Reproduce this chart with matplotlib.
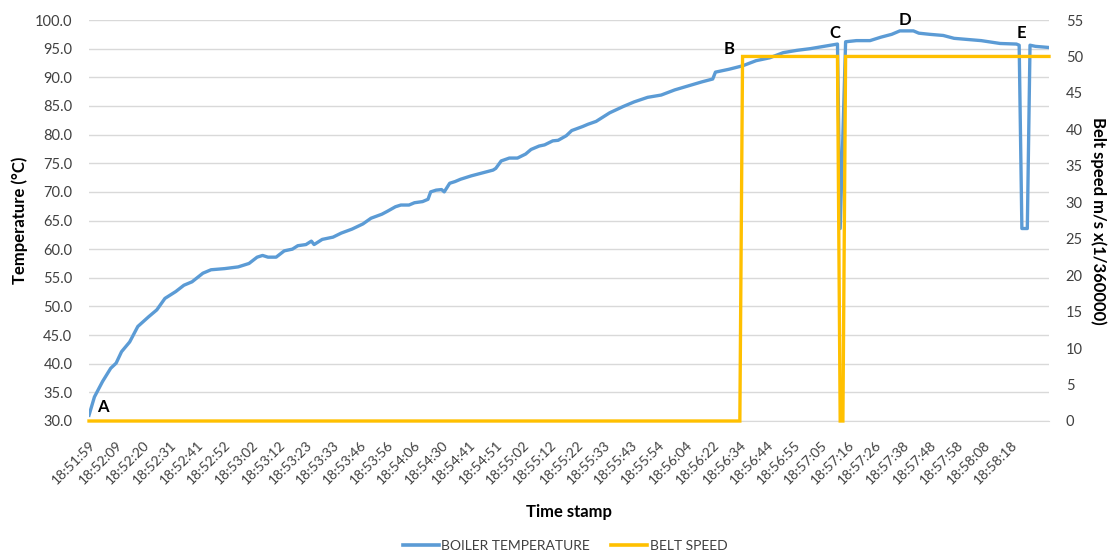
import matplotlib
matplotlib.use("Agg")
import matplotlib.pyplot as plt
from matplotlib.lines import Line2D

plt.rcParams['font.family'] = ['Lato', 'DejaVu Sans']

# tick labels, one every 10 samples
timestamps = [
    '18:51:59', '18:52:09', '18:52:20', '18:52:31', '18:52:41', '18:52:52',
    '18:53:02', '18:53:12', '18:53:23', '18:53:33', '18:53:46', '18:53:56',
    '18:54:06', '18:54:30', '18:54:41', '18:54:51', '18:55:02', '18:55:12',
    '18:55:22', '18:55:33', '18:55:43', '18:55:54', '18:56:04', '18:56:22',
    '18:56:34', '18:56:44', '18:56:55', '18:57:05', '18:57:16', '18:57:26',
    '18:57:38', '18:57:48', '18:57:58', '18:58:08', '18:58:18',
]
n_samples = 355

# boiler temperature readings (sample number, deg C)
temp_idx = [
    0, 2, 5, 8, 10, 12, 15, 18, 22, 25, 28, 32, 35, 38, 42, 45, 50, 55, 59,
    62, 64, 66, 69, 72, 75, 77, 80, 82, 83, 86, 90, 93, 97, 101, 104, 108,
    110, 113, 115, 118, 120, 123, 125, 126, 128, 130, 131, 133, 135, 137,
    141, 145, 149, 150, 152, 155, 158, 161, 163, 166, 168, 171, 173, 176,
    178, 182, 184, 187, 192, 197, 201, 206, 211, 216, 221, 226, 230, 231,
    236, 241, 246, 251, 256, 261, 266, 271, 276, 277, 279, 283, 288, 292,
    296, 299, 304, 306, 310, 315, 319, 329, 336, 342, 343, 344, 346, 347,
    349, 354,
]
temp_val = [
    31.0, 34.2, 36.9, 39.2, 40.1, 42.1, 43.8, 46.5, 48.2, 49.4, 51.4, 52.6,
    53.7, 54.3, 55.8, 56.4, 56.6, 56.9, 57.5, 58.6, 58.9, 58.6, 58.6, 59.7,
    60.0, 60.6, 60.8, 61.4, 60.8, 61.7, 62.1, 62.8, 63.5, 64.4, 65.4, 66.1,
    66.6, 67.4, 67.7, 67.7, 68.1, 68.3, 68.7, 70.0, 70.3, 70.4, 70.0, 71.5,
    71.8, 72.2, 72.8, 73.3, 73.8, 74.1, 75.4, 75.9, 75.9, 76.6, 77.4, 78.0,
    78.2, 78.9, 79.0, 79.8, 80.7, 81.4, 81.8, 82.3, 83.8, 84.9, 85.7, 86.5,
    86.9, 87.8, 88.5, 89.2, 89.7, 90.9, 91.4, 92.0, 92.9, 93.4, 94.3, 94.7,
    95.0, 95.4, 95.8, 63.6, 96.2, 96.4, 96.4, 97.0, 97.5, 98.1, 98.1, 97.7,
    97.5, 97.3, 96.8, 96.4, 95.9, 95.8, 95.6, 63.6, 63.6, 95.6, 95.4, 95.2,
]

# belt speed readings (sample number, m/s x 1/360000)
belt_idx = [0, 240, 241, 276, 277, 278, 279, 354]
belt_val = [0, 0, 50, 50, 0, 0, 50, 50]

# event markers (label, sample number, temperature)
events = [('A', 5, 32.4), ('B', 236, 94.9), ('C', 275, 97.8),
          ('D', 301, 100.0), ('E', 344, 97.8)]

BLUE = '#5B9BD5'
YELLOW = '#FFC000'
GREY = '#404040'

fig = plt.figure(figsize=(11.16, 5.55), dpi=100)
ax = fig.add_axes([89 / 1116, 1 - 421 / 555, 960 / 1116, 401 / 555])
ax2 = ax.twinx()

ax.plot(temp_idx, temp_val, color=BLUE, lw=2.4, solid_joinstyle='round', zorder=3)
ax2.plot(belt_idx, belt_val, color=YELLOW, lw=2.4, solid_joinstyle='miter',
         zorder=3, clip_on=False)

ax.set_xlim(0, n_samples - 1)
ax.set_ylim(30, 100)
ax2.set_ylim(0, 55)
ax.set_yticks([30 + 5 * i for i in range(15)])
ax.set_yticklabels([f'{30 + 5 * i:.1f}' for i in range(15)])
ax2.set_yticks(range(0, 56, 5))

ax.set_xticks(range(0, 10 * len(timestamps), 10))
ax.set_xticklabels(timestamps, rotation=45, ha='right', rotation_mode='anchor')

ax.grid(axis='y', color='#D9D9D9', lw=1)
ax.set_axisbelow(True)
for a in (ax, ax2):
    for s in a.spines.values():
        s.set_visible(False)
ax.spines['bottom'].set_visible(True)
ax.spines['bottom'].set_color('#D9D9D9')

ax.tick_params(axis='y', length=0, pad=12, labelsize=10.5, labelcolor=GREY)
ax2.tick_params(axis='y', length=0, pad=12, labelsize=10.5, labelcolor=GREY)
ax.tick_params(axis='x', length=0, pad=13, labelsize=10, labelcolor=GREY)

ax.set_ylabel('Temperature (°C)', fontsize=12, fontweight='bold', labelpad=5)
ax2.set_ylabel('Belt speed m/s x(1/360000)', fontsize=12, fontweight='bold',
               rotation=270, labelpad=17)
ax.set_xlabel('Time stamp', fontsize=12, fontweight='bold', labelpad=12)

for name, i, t in events:
    ax.text(i, t, name, fontsize=12, fontweight='bold', ha='center', va='center', zorder=5)

handles = [Line2D([], [], color=BLUE, lw=2.6), Line2D([], [], color=YELLOW, lw=2.6)]
fig.legend(handles, ['BOILER TEMPERATURE', 'BELT SPEED'], loc='center',
           bbox_to_anchor=(565 / 1116, 1 - 546 / 555), ncol=2, frameon=False,
           fontsize=10, handlelength=2.6, columnspacing=1.5, handletextpad=0.2,
           labelcolor=GREY)

fig.savefig('out.png', dpi=100)
